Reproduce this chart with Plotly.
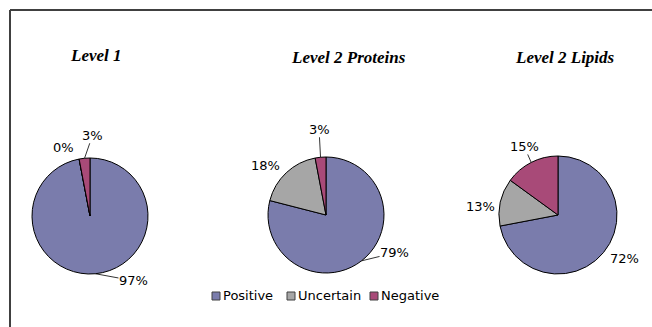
import math
import plotly.graph_objects as go

W, H = 652, 327

categories = ["Positive", "Uncertain", "Negative"]
titles = ["Level 1", "Level 2 Proteins", "Level 2 Lipids"]
level1 = [97, 0, 3]
level2_proteins = [79, 18, 3]
level2_lipids = [72, 13, 15]
series = [level1, level2_proteins, level2_lipids]
colors = ["#7A7CAC", "#A6A6A6", "#A84A78"]

# pie centres (px from left/top) and radius in px
pie_boxes = [(90, 216, 58), (326, 215, 58), (558, 215, 59)]
title_pos = [(96, 56), (348, 57), (565, 57)]
# per-slice label offset from the slice's edge point (dx, dy px, y down) and leader-line flag
label_offsets = [
    [(38, 7, True), (-16, -12, False), (8, -23, True)],
    [(33, -8, True), (-21, -7, False), (-1.5, -28, True)],
    [(21.5, 5.5, False), (-19.5, 4, False), (-7, -16, True)],
]
legend_x = [212, 287, 370]
legend_y = 296

FONT = "DejaVu Sans"

fig = go.Figure()
annotations = []
shapes = []

for vals, (cx, cy, r), offs in zip(series, pie_boxes, label_offsets):
    fig.add_trace(go.Pie(
        labels=categories, values=vals, sort=False, direction="clockwise",
        rotation=0, textinfo="none", hoverinfo="label+percent",
        marker=dict(colors=colors, line=dict(color="#000000", width=1)),
        domain=dict(x=[(cx - r) / W, (cx + r) / W],
                    y=[1 - (cy + r) / H, 1 - (cy - r) / H]),
        showlegend=False,
    ))
    total = sum(vals)
    cum = 0
    for v, (dx, dy, leader) in zip(vals, offs):
        mid = (cum + v / 2) / total * 2 * math.pi
        cum += v
        ex = cx + r * math.sin(mid)
        ey = cy - r * math.cos(mid)
        common = dict(text=f"{v}%", xref="paper", yref="paper",
                      x=ex / W, y=1 - ey / H,
                      xanchor="center", yanchor="middle",
                      font=dict(family=FONT, size=13, color="#000000"))
        if leader:
            annotations.append(dict(**common, showarrow=True, arrowhead=0,
                                    arrowwidth=0.8, arrowcolor="#000000",
                                    ax=dx, ay=dy, standoff=0, borderpad=0))
        else:
            annotations.append(dict(**common, showarrow=False,
                                    xshift=dx, yshift=-dy))

for t, (tx, ty) in zip(titles, title_pos):
    annotations.append(dict(
        text=t, xref="paper", yref="paper", x=tx / W, y=1 - ty / H,
        xanchor="center", yanchor="middle", showarrow=False,
        font=dict(family="Liberation Serif", size=17, color="#000000",
                  style="italic", weight="bold"),
    ))

# legend: small swatches with category names
for name, col, lx in zip(categories, colors, legend_x):
    shapes.append(dict(type="rect", xref="paper", yref="paper",
                       x0=lx / W, x1=(lx + 8) / W,
                       y0=1 - (legend_y + 4) / H, y1=1 - (legend_y - 4) / H,
                       fillcolor=col, line=dict(color="#404040", width=1)))
    annotations.append(dict(text=name, xref="paper", yref="paper",
                            x=(lx + 9) / W, y=1 - (legend_y - 0.5) / H,
                            xanchor="left", yanchor="middle", showarrow=False,
                            font=dict(family=FONT, size=13, color="#000000")))

# chart-area frame (top and left edges visible)
shapes.append(dict(type="line", xref="paper", yref="paper",
                   x0=10 / W, x1=1, y0=1 - 10 / H, y1=1 - 10 / H,
                   line=dict(color="#404040", width=2)))
shapes.append(dict(type="line", xref="paper", yref="paper",
                   x0=10 / W, x1=10 / W, y0=0, y1=1 - 10 / H,
                   line=dict(color="#404040", width=2)))

fig.update_layout(
    width=W, height=H,
    margin=dict(l=0, r=0, t=0, b=0),
    paper_bgcolor="#FFFFFF", plot_bgcolor="#FFFFFF",
    annotations=annotations, shapes=shapes,
)

fig.write_html("out.html")
